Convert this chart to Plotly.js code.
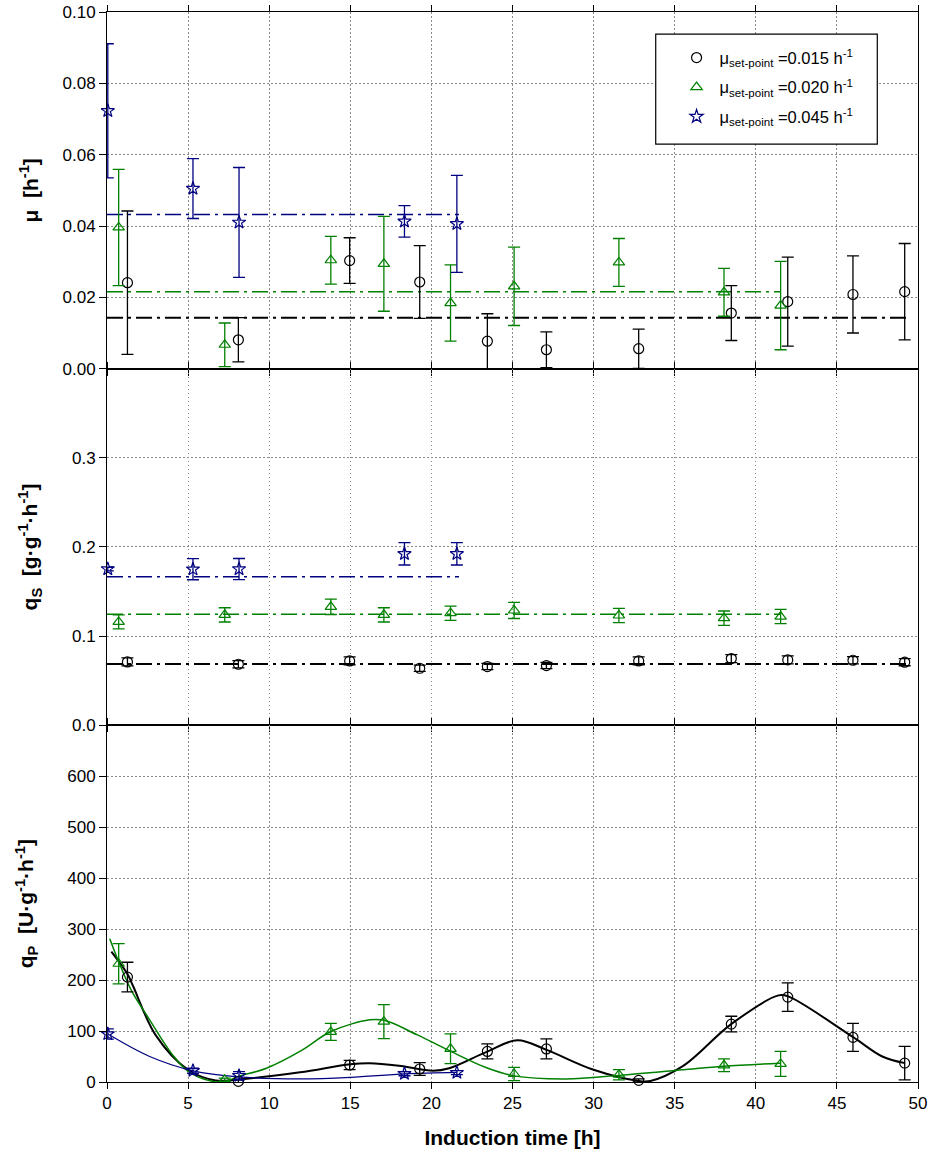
<!DOCTYPE html>
<html>
<head>
<meta charset="utf-8">
<script src="https://cdn.plot.ly/plotly-3.0.1.min.js"></script>
<style>
  html, body { margin: 0; padding: 0; background: #fff; }
  #chart { width: 931px; height: 1162px; }
</style>
</head>
<body>
<div id="chart"></div>
<script>
// ---- Culture at mu set-point 0.015 h-1 ----
const t015 = [1.26, 8.10, 14.96, 19.28, 23.45, 27.09, 32.78, 38.49, 41.97, 45.99, 49.18];
const mu015 = [0.0241, 0.0081, 0.0303, 0.0243, 0.0077, 0.0053, 0.0056, 0.0156, 0.0188, 0.0208, 0.0216];
const muErr015 = [0.0201, 0.0062, 0.0064, 0.0102, 0.0077, 0.0050, 0.0055, 0.0077, 0.0125, 0.0108, 0.0135];
const qs015 = [0.0711, 0.0685, 0.0722, 0.0640, 0.0659, 0.0670, 0.0722, 0.0749, 0.0734, 0.0730, 0.0708];
const qsErr015 = [0.0045, 0.0040, 0.0045, 0.0035, 0.0035, 0.0035, 0.0045, 0.0045, 0.0045, 0.0040, 0.0040];
const qp015 = [205.9, 1.2, 33.4, 25.5, 60.0, 64.9, 3.2, 113.6, 166.6, 87.6, 37.0];
const qpErr015 = [29.1, 3.0, 9.0, 12.4, 14.7, 19.7, 3.0, 15.4, 27.9, 27.5, 33.0];

// ---- Culture at mu set-point 0.020 h-1 ----
const t020 = [0.72, 7.26, 13.80, 17.07, 21.18, 25.10, 31.56, 38.04, 41.53];
const mu020 = [0.0396, 0.0067, 0.0304, 0.0294, 0.0184, 0.0231, 0.0298, 0.0214, 0.0177];
const muErr020 = [0.0163, 0.0061, 0.0067, 0.0133, 0.0107, 0.0110, 0.0067, 0.0067, 0.0124];
const qs020 = [0.1160, 0.1239, 0.1329, 0.1239, 0.1258, 0.1288, 0.1232, 0.1202, 0.1220];
const qsErr020 = [0.0078, 0.0080, 0.0086, 0.0080, 0.0080, 0.0090, 0.0080, 0.0080, 0.0080];
const qp020 = [232.1, 4.5, 98.4, 118.5, 65.2, 15.7, 14.3, 32.7, 35.6];
const qpErr020 = [39.6, 3.0, 16.7, 33.5, 29.2, 13.0, 10.0, 12.5, 24.6];

// ---- Culture at mu set-point 0.045 h-1 ----
const t045 = [0.05, 5.30, 8.14, 18.34, 21.57];
const mu045 = [0.0723, 0.0505, 0.0410, 0.0413, 0.0406];
const muErr045 = [0.0188, 0.0084, 0.0154, 0.0044, 0.0136];
const qs045 = [0.1753, 0.1751, 0.1753, 0.1923, 0.1923];
const qsErr045 = [0.0020, 0.0118, 0.0118, 0.0125, 0.0125];
const qp045 = [94.3, 22.2, 12.4, 16.3, 18.3];
const qpErr045 = [10.0, 5.0, 8.0, 4.0, 4.0];

// Mean levels over the induction phase (order: 0.015, 0.020, 0.045)
const muMean = [0.0143, 0.0216, 0.0432];
const qsMean = [0.0689, 0.1247, 0.1666];
const meanEnd = [49.4, 41.5, 21.7];

// Smoothed qP profiles
const fitT015 = [0.27, 1.26, 1.6, 3.0, 5.0, 6.7, 8.1, 11.9, 15.0, 16.2, 18.0, 20.1, 21.1, 23.4, 25.3, 27.1, 30.0, 32.8, 33.5, 35.5, 38.5, 41.4, 42.0, 46.0, 47.8, 49.2];
const fitQp015 = [256, 212, 189, 92, 24, 3, 5, 19, 35, 37, 32, 22, 27, 59, 82, 63, 24, 2, 2, 31, 114, 170, 168, 88, 50, 37];
const fitT020 = [0.17, 0.72, 1.5, 2.63, 4.0, 5.0, 6.54, 7.26, 8.1, 9.83, 12.0, 13.8, 16.2, 17.1, 19.1, 21.2, 23.4, 25.1, 28.3, 31.6, 35.5, 38.0, 41.5];
const fitQp020 = [281, 236, 180, 122, 55, 21, 1, 1, 11, 27, 62, 99, 122, 121, 93, 60, 28, 12, 6, 13, 24, 31, 37];
const fitT045 = [0.06, 2.63, 5.3, 8.14, 11.9, 15.0, 18.35, 21.58];
const fitQp045 = [94, 50, 22, 10, 6, 9, 16, 19];

const seriesNames = [
  'μ<sub>set-point</sub> =0.015 h<sup>-1</sup>',
  'μ<sub>set-point</sub> =0.020 h<sup>-1</sup>',
  'μ<sub>set-point</sub> =0.045 h<sup>-1</sup>'
];

// ---- styling ----
const FONT = 'Liberation Sans, Arial, Helvetica, sans-serif';
const COLORS = ['#000000', '#008000', '#000080'];
const SYMBOLS = ['circle-open', 'triangle-up-open', 'star-open'];
const SIZES = [10, 10, 10];
const MEAN_WIDTH = [2, 1.5, 1.5];
const FIT_WIDTH = [2, 1.5, 1.2];
const DASH = '16px,5px,3px,5px';

const series = [
  { t: t015, mu: mu015, muE: muErr015, qs: qs015, qsE: qsErr015, qp: qp015, qpE: qpErr015, ft: fitT015, fq: fitQp015 },
  { t: t020, mu: mu020, muE: muErr020, qs: qs020, qsE: qsErr020, qp: qp020, qpE: qpErr020, ft: fitT020, fq: fitQp020 },
  { t: t045, mu: mu045, muE: muErr045, qs: qs045, qsE: qsErr045, qp: qp045, qpE: qpErr045, ft: fitT045, fq: fitQp045 }
];

const traces = [];

function pointTrace(i, x, y, e, xa, ya, legend) {
  return {
    type: 'scatter', mode: 'markers', x: x, y: y,
    xaxis: xa, yaxis: ya, cliponaxis: false,
    name: seriesNames[i], legendgroup: 'g' + i, showlegend: legend,
    marker: { symbol: SYMBOLS[i], size: SIZES[i], color: COLORS[i], line: { color: COLORS[i], width: 1.2 } },
    error_y: { type: 'data', array: e, visible: true, color: COLORS[i], thickness: 1.3, width: 6 },
    hoverinfo: 'x+y'
  };
}

function levelTrace(i, level, xa, ya) {
  return {
    type: 'scatter', mode: 'lines', x: [0, meanEnd[i]], y: [level, level],
    xaxis: xa, yaxis: ya, showlegend: false, legendgroup: 'g' + i,
    line: { color: COLORS[i], width: MEAN_WIDTH[i], dash: DASH },
    hoverinfo: 'skip'
  };
}

// mean lines first so the points sit on top
series.forEach((s, i) => {
  traces.push(levelTrace(i, muMean[i], 'x', 'y'));
  traces.push(levelTrace(i, qsMean[i], 'x2', 'y2'));
  traces.push({
    type: 'scatter', mode: 'lines', x: s.ft, y: s.fq, xaxis: 'x3', yaxis: 'y3',
    showlegend: false, legendgroup: 'g' + i,
    line: { color: COLORS[i], width: FIT_WIDTH[i], shape: 'spline', smoothing: 1 },
    hoverinfo: 'skip'
  });
});
series.forEach((s, i) => {
  traces.push(pointTrace(i, s.t, s.mu, s.muE, 'x', 'y', true));
  traces.push(pointTrace(i, s.t, s.qs, s.qsE, 'x2', 'y2', false));
  traces.push(pointTrace(i, s.t, s.qp, s.qpE, 'x3', 'y3', false));
});

const GRID = { showgrid: true, gridcolor: '#8a8a8a', gridwidth: 1, griddash: '1.5px,2.5px', zeroline: false };

function xAxis(anchor, labels) {
  return Object.assign({
    anchor: anchor, range: [0, 50], dtick: 5, tick0: 0,
    showline: true, linecolor: '#000', linewidth: 1, mirror: 'ticks',
    ticks: 'outside', ticklen: 6, tickcolor: '#000', tickwidth: 1,
    showticklabels: labels, tickfont: { size: 17 }
  }, GRID);
}

function yAxis(anchor, domain, range, vals, text, title, standoff) {
  return Object.assign({
    anchor: anchor, domain: domain, range: range,
    tickmode: 'array', tickvals: vals, ticktext: text,
    showline: true, linecolor: '#000', linewidth: 1, mirror: true,
    ticks: 'outside', ticklen: 7, tickcolor: '#000', tickwidth: 1,
    tickfont: { size: 17 }, automargin: 'left',
    title: { text: title, font: { size: 21, family: FONT }, standoff: standoff }
  }, GRID);
}

const muTicks = [0, 0.02, 0.04, 0.06, 0.08, 0.10];
const qsTicks = [0, 0.1, 0.2, 0.3];
const qpTicks = [0, 100, 200, 300, 400, 500, 600];

const layout = {
  width: 931, height: 1162,
  margin: { l: 107, r: 13, t: 12, b: 80 },
  paper_bgcolor: '#fff', plot_bgcolor: '#fff',
  font: { family: FONT, size: 17, color: '#000' },
  showlegend: true,
  xaxis: xAxis('y', false),
  xaxis2: Object.assign(xAxis('y2', false), { matches: 'x3' }),
  xaxis3: Object.assign(xAxis('y3', true), {
    automargin: 'bottom',
    title: { text: '<b>Induction time [h]</b>', font: { size: 21, family: FONT }, standoff: 17 }
  }),
  yaxis: yAxis('x', [2 / 3, 1], [0, 0.1], muTicks, muTicks.map(v => v.toFixed(2)),
    '<b>μ\u00a0\u00a0[h<sup>-1</sup>]</b>', 18),
  yaxis2: yAxis('x2', [1 / 3, 2 / 3], [0, 0.4], qsTicks, qsTicks.map(v => v.toFixed(1)),
    '<b>q<sub>S</sub>\u00a0\u00a0[g·g<sup>-1</sup>·h<sup>-1</sup>]</b>', 28),
  yaxis3: yAxis('x3', [0, 1 / 3], [0, 700], qpTicks, qpTicks.map(String),
    '<b>q<sub>P</sub>\u00a0\u00a0[U·g<sup>-1</sup>·h<sup>-1</sup>]</b>', 27),
  legend: {
    x: 0.6986, y: 0.9735, xanchor: 'left', yanchor: 'top',
    bgcolor: 'rgba(0,0,0,0)', borderwidth: 0,
    font: { size: 16.5, family: FONT }, itemwidth: 36, tracegroupgap: 5
  },
  shapes: [{
    type: 'rect', xref: 'paper', yref: 'paper', layer: 'above',
    x0: 0.6766, x1: 0.9498, y0: 0.8766, y1: 0.9794,
    line: { color: '#000', width: 1.2 }, fillcolor: '#fff'
  }]
};

Plotly.newPlot('chart', traces, layout, { displayModeBar: false, staticPlot: true });
</script>
</body>
</html>
